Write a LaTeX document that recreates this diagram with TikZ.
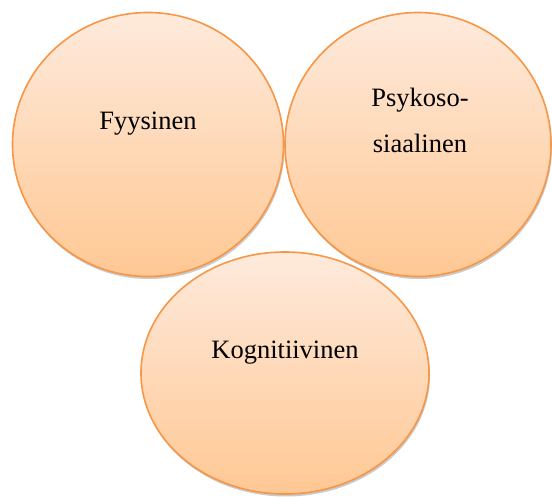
\documentclass[tikz,border=0pt]{standalone}
\usepackage{fontspec}
\setmainfont{Liberation Serif}
\usetikzlibrary{shapes.geometric,shadows}
\definecolor{ringline}{HTML}{F79646}
\definecolor{filltop}{HTML}{FEEADC}
\definecolor{fillbottom}{HTML}{FFC894}
\tikzset{
  bubble/.style={ellipse, draw=ringline, line width=1.6pt, inner sep=0pt,
    top color=filltop, bottom color=fillbottom,
    drop shadow={shadow xshift=1pt, shadow yshift=-2.5pt, opacity=0.35, fill=black!60}},
  caption/.style={font=\fontsize{26.5}{46}\selectfont, anchor=base, align=center, inner sep=0pt}
}
\begin{document}
\begin{tikzpicture}[x=1pt,y=-1pt]
  \useasboundingbox (0,0) rectangle (552,497);
  % three domain bubbles
  \node[bubble, minimum width=271pt, minimum height=264pt] (fyys) at (148,144.5) {};
  \node[bubble, minimum width=266pt, minimum height=264pt] (psyk) at (418,144.5) {};
  \node[bubble, minimum width=288pt, minimum height=242pt] (kogn) at (285,373) {};
  % captions (a two-line caption sits on its last line's baseline)
  \node[caption] (tfyys) at (148,130) {Fyysinen};
  \node[caption] (tpsyk) at (420,153) {Psykoso-\\siaalinen};
  \node[caption] (tkogn) at (285,359) {Kognitiivinen};
\end{tikzpicture}
\end{document}
